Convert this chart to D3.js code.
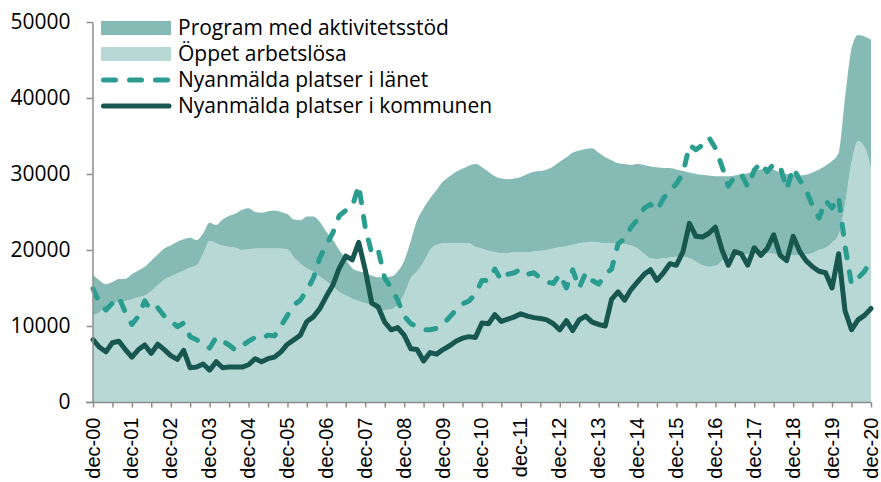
<!DOCTYPE html>
<html>
<head>
<meta charset="utf-8">
<script src="https://cdn.jsdelivr.net/npm/d3@7"></script>
<style>
    body { margin: 0; background: #fff; }
    svg { display: block; }
</style>
</head>
<body>
<svg></svg>
<script>
// Series names, legend order
const seriesNames = [
    'Program med aktivitetsstöd',
    'Öppet arbetslösa',
    'Nyanmälda platser i länet',
    'Nyanmälda platser i kommunen'
];

// One value every second month, dec-00 .. dec-20
const oppet = [
    11400, 11800, 12500, 13000, 13200, 13300, 13500, 13800, 14000, 14600,
    15400, 16100, 16500, 16900, 17300, 17700, 18000, 19500, 21200, 20900,
    20600, 20400, 20300, 20000, 20100, 20200, 20200, 20200, 20200, 20200,
    20100, 19000, 18200, 17600, 17100, 16500, 15900, 15200, 14500, 14000,
    13600, 13300, 13000, 12700, 12300, 12100, 12200, 12800, 14200, 16300,
    17200, 18400, 20000, 20700, 20900, 20900, 20900, 20900, 20900, 20400,
    20200, 19900, 19700, 19600, 19600, 19700, 19700, 19700, 19800, 19900,
    20000, 20200, 20400, 20500, 20700, 20900, 21000, 21100, 21000, 20900,
    20900, 20900, 20800, 20600, 20200, 19500, 18900, 18800, 18900, 19000,
    19100, 19100, 18900, 18500, 18000, 17800, 17900, 18600, 19100, 19300,
    19400, 19500, 19600, 19600, 19600, 19500, 19400, 19300, 19300, 19300,
    19400, 19600, 20000, 20300, 21000, 22000, 26000, 31500, 34300, 33600,
    30800
];

const program = [
    5300, 4200, 3000, 2800, 3000, 2900, 3300, 3500, 3800, 4000,
    4000, 4100, 4100, 4200, 4100, 3900, 3300, 2700, 2400, 2400,
    3400, 4100, 4500, 5300, 5400, 4800, 4700, 4900, 5000, 4800,
    4600, 5000, 5700, 6800, 7300, 7200, 6500, 6100, 5500, 4800,
    4000, 3900, 4000, 3900, 4100, 4300, 4300, 4400, 4400, 4900,
    6700, 7100, 6800, 7200, 8100, 8800, 9400, 9800, 10200, 10900,
    10700, 10400, 10000, 9800, 9700, 9700, 9900, 10300, 10500, 10500,
    10600, 10800, 11200, 11700, 12100, 12200, 12300, 12300, 11800, 11300,
    10900, 10500, 10500, 10600, 11100, 11700, 12100, 12100, 11900, 11800,
    11500, 11300, 11300, 11500, 11900, 12000, 11800, 11100, 10600, 10500,
    10600, 10600, 10800, 11000, 11200, 11100, 10800, 10700, 10600, 10500,
    10500, 10600, 10600, 10800, 10700, 10800, 14000, 15000, 14000, 14500,
    16900
];

const lanet = [
    14900, 13000, 12100, 13000, 13800, 11800, 10200, 11300, 13300, 12000,
    12400, 11300, 10700, 9900, 10400, 8600, 8200, 7600, 7100, 8500,
    8000, 7500, 6800, 7400, 8000, 8500, 8300, 8800, 8700, 10000,
    11400, 12800, 13400, 14700, 16300, 19000, 20700, 22300, 24500, 25200,
    25700, 28500, 23000, 19500, 20000, 16300, 15000, 13400, 11300, 10300,
    9900, 9500, 9500, 9700, 10200, 11200, 12100, 12900, 13300, 14200,
    16000, 16000, 17500, 16000, 16800, 17000, 17500, 16800, 17000, 16300,
    15800, 15600, 16800, 15000, 17400, 15000, 17000, 16000, 15500, 16800,
    17500, 20800, 21500, 23000, 24000, 25500, 26000, 25200, 26800, 27800,
    28700, 30100, 33800, 33200, 33800, 34800, 33400, 31000, 28400, 29700,
    30000, 28300, 30500, 31500, 30300, 31300, 31000, 28000, 30800, 29200,
    27900, 25800, 24200, 26500, 25500, 27000, 20500, 15500, 16300, 17200,
    18600
];

const kommunen = [
    8200, 7200, 6600, 7800, 8000, 6900, 5900, 6900, 7500, 6400,
    7600, 6900, 6100, 5600, 6800, 4500, 4600, 5000, 4200, 5300,
    4500, 4600, 4600, 4600, 4900, 5700, 5300, 5700, 5900, 6600,
    7600, 8200, 8800, 10600, 11200, 12300, 13900, 15400, 17600, 19200,
    18700, 21000, 17400, 13000, 12500, 10500, 9500, 9800, 8800, 7000,
    6900, 5400, 6500, 6300, 6900, 7400, 8000, 8400, 8600, 8500,
    10400, 10300, 11500, 10600, 10900, 11200, 11600, 11300, 11100, 11000,
    10800, 10300, 9500, 10700, 9400, 10800, 11300, 10500, 10200, 10000,
    13500, 14500, 13400, 14800, 15800, 16800, 17400, 16000, 17000, 18200,
    18000, 19800, 23500, 21800, 21700, 22200, 23000, 20000, 18000, 19800,
    19500, 18000, 20300, 19300, 20200, 22000, 19300, 18600, 21800, 19800,
    18600, 17800, 17200, 17000, 15000, 19500, 12000, 9500, 10800, 11400,
    12300
];

const tickLabels = [
    'dec-00', 'dec-01', 'dec-02', 'dec-03', 'dec-04', 'dec-05', 'dec-06',
    'dec-07', 'dec-08', 'dec-09', 'dec-10', 'dec-11', 'dec-12', 'dec-13',
    'dec-14', 'dec-15', 'dec-16', 'dec-17', 'dec-18', 'dec-19', 'dec-20'
];

const yTicks = [0, 10000, 20000, 30000, 40000, 50000];

const colors = {
    program: '#85bbb4',
    oppet: '#b8d8d6',
    lanet: '#2a9d8f',
    kommunen: '#17574f',
    axis: '#8c8c8c'
};

const labelFont = '"Open Sans", Lato, sans-serif';

const width = 881;
const height = 482;

const months = oppet.map((_, i) => new Date(2000, 11 + 2 * i, 1));
const halfYears = d3.range(tickLabels.length * 2 - 1).map(i => new Date(2000, 11 + 6 * i, 1));

const rows = months.map((date, i) => ({
    date,
    oppet: oppet[i],
    program: program[i],
    lanet: lanet[i],
    kommunen: kommunen[i]
}));

const svg = d3.select('svg')
    .attr('width', width)
    .attr('height', height);

const x = d3.scaleTime()
    .domain([months[0], months[months.length - 1]])
    .range([93, 871]);

const y = d3.scaleLinear()
    .domain([0, 50000])
    .range([402, 22]);

// Stacked areas: öppet at the bottom, program on top
const stacked = d3.stack()
    .keys(['oppet', 'program'])(rows);

const area = d3.area()
    .curve(d3.curveMonotoneX)
    .x(d => x(d.data.date))
    .y0(d => y(d[0]))
    .y1(d => y(d[1]));

svg.append('g')
    .attr('class', 'areas')
    .selectAll('path')
    .data(stacked)
    .enter()
    .append('path')
    .attr('d', area)
    .style('fill', s => colors[s.key]);

// The source lines are noisy, so keep them straight between points
const line = key => d3.line()
    .x(d => x(d.date))
    .y(d => y(d[key]));

svg.append('path')
    .datum(rows)
    .attr('d', line('lanet'))
    .style('fill', 'none')
    .style('stroke', colors.lanet)
    .style('stroke-width', 5)
    .style('stroke-dasharray', '10 14')
    .style('stroke-linecap', 'round')
    .style('stroke-linejoin', 'round');

svg.append('path')
    .datum(rows)
    .attr('d', line('kommunen'))
    .style('fill', 'none')
    .style('stroke', colors.kommunen)
    .style('stroke-width', 5)
    .style('stroke-linecap', 'round')
    .style('stroke-linejoin', 'round');

// Axes
const yAxis = svg.append('g')
    .attr('transform', 'translate(92.5,0)')
    .call(d3.axisLeft(y)
        .tickValues(yTicks)
        .tickSize(6)
        .tickSizeOuter(0)
        .tickPadding(16)
        .tickFormat(d3.format('d')));

const xAxis = svg.append('g')
    .attr('transform', 'translate(0,402.5)')
    .call(d3.axisBottom(x)
        .tickValues(halfYears)
        .tickSize(5)
        .tickSizeOuter(0)
        .tickFormat(d => d.getMonth() === 11 ? tickLabels[d.getFullYear() - 2000] : ''));

xAxis.select('.domain')
    .attr('d', 'M86,0H871.5');

[yAxis, xAxis].forEach(axis => {
    axis.selectAll('.domain, .tick line')
        .style('stroke', colors.axis)
        .style('stroke-width', 1.5);
});

yAxis.selectAll('text')
    .style('font-family', labelFont)
    .style('font-size', '21px')
    .style('fill', '#000');

xAxis.selectAll('text')
    .attr('transform', 'rotate(-90)')
    .attr('x', -15)
    .attr('y', 0)
    .attr('dy', '0.3em')
    .style('text-anchor', 'end')
    .style('font-family', '"Liberation Sans", Arial, sans-serif')
    .style('font-size', '20px')
    .style('fill', '#000');

// Legend
const legend = svg.append('g')
    .attr('class', 'legend');

const legendItems = legend.selectAll('.item')
    .data(seriesNames)
    .enter()
    .append('g')
    .attr('class', 'item')
    .attr('transform', (d, i) => `translate(101,${28 + i * 26})`);

legendItems.filter((d, i) => i < 2)
    .append('rect')
    .attr('x', 0)
    .attr('y', -7)
    .attr('width', 70)
    .attr('height', 14)
    .style('fill', (d, i) => i === 0 ? colors.program : colors.oppet);

legendItems.filter((d, i) => i >= 2)
    .append('line')
    .attr('x1', 2.5)
    .attr('x2', 68)
    .style('stroke', (d, i) => i === 0 ? colors.lanet : colors.kommunen)
    .style('stroke-width', 5)
    .style('stroke-linecap', 'round')
    .style('stroke-dasharray', (d, i) => i === 0 ? '12 14' : null);

legendItems.append('text')
    .text(d => d)
    .attr('x', 77)
    .attr('dy', '0.35em')
    .style('font-family', labelFont)
    .style('font-size', '21px')
    .style('fill', '#000');
</script>
</body>
</html>
